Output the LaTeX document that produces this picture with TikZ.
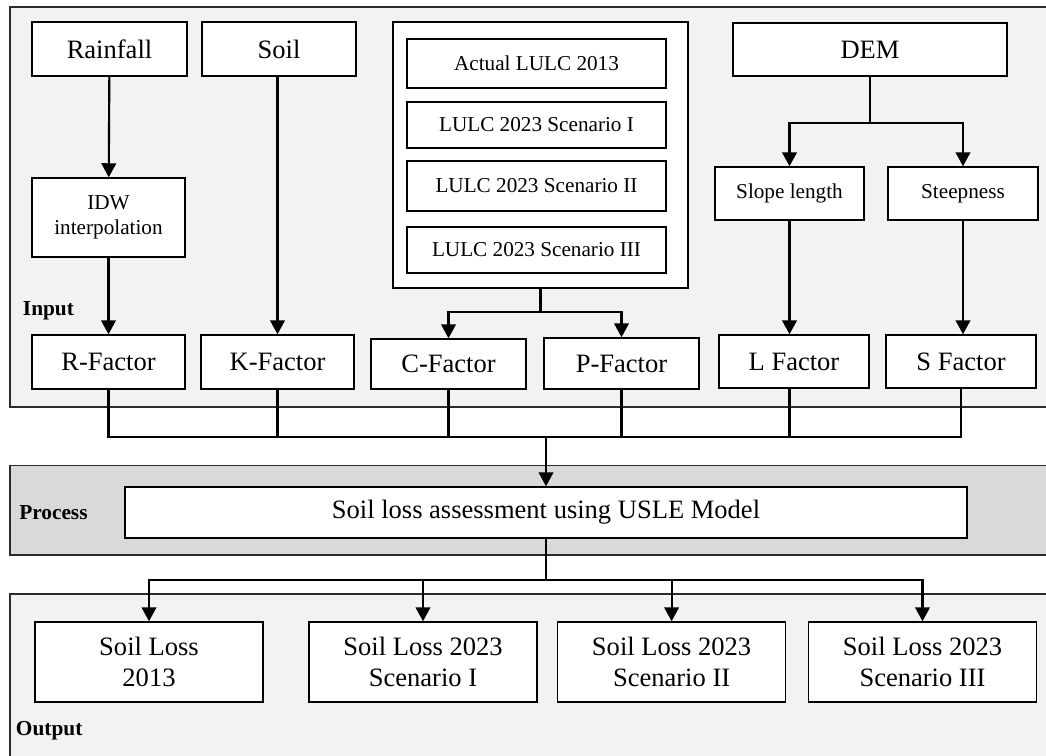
\documentclass[tikz,border=0pt]{standalone}
\usepackage{fontspec}
\setmainfont{Liberation Serif}
\usetikzlibrary{arrows.meta}

\definecolor{panelgray}{HTML}{F2F2F2}
\definecolor{procgray}{HTML}{D9D9D9}
\definecolor{edgegray}{HTML}{2B2B2B}

\tikzset{
  px/.style 2 args={minimum width=#1*0.75pt, minimum height=#2*0.75pt},
  box/.style={draw=black, fill=white, line width=1.1pt, inner sep=0pt, align=center,
              font=\fontsize{19.9}{23.5}\selectfont},
  smallbox/.style={box, font=\fontsize{15.9}{19}\selectfont},
  panel/.style={draw=edgegray, line width=0.8pt},
  tag/.style={anchor=base west, inner sep=0pt, font=\fontsize{16}{19}\selectfont\bfseries},
  link/.style={line width=1.6pt, draw=black},
  flow/.style={link, -{Triangle[width=11pt, length=10.5pt]}}
}

\begin{document}
\begin{tikzpicture}[x=0.75pt, y=-0.75pt]
  \useasboundingbox (0,0) rectangle (1046,756);
  \clip (0,0) rectangle (1046,756);

  % stage panels
  \path[panel, fill=panelgray] (10,7) rectangle (1060,407);
  \path[panel, fill=procgray] (10,465.5) rectangle (1060,555);
  \path[panel, fill=panelgray] (10,594) rectangle (1060,770);

  \node[tag] (lin) at (22.7,315) {Input};
  \node[tag] (lproc) at (19,519) {Process};
  \node[tag] (lout) at (15.7,735.7) {Output};

  % input data
  \node[box, px={155}{54}] (rain) at (109.5,49) {Rainfall};
  \node[box, px={154}{54}] (soil) at (279,49) {Soil};
  \node[smallbox, px={153}{79}] (idw) at (108.5,217.5) {IDW\\interpolation};

  \node[box, px={295}{266}] (lulc) at (540.5,155) {};
  \node[smallbox, px={259}{49}] (act) at (536.5,63.5) {Actual LULC 2013};
  \node[smallbox, px={259}{46}] (sc1) at (536.5,125) {LULC 2023 Scenario I};
  \node[smallbox, px={259}{50}] (sc2) at (536.5,186) {LULC 2023 Scenario II};
  \node[smallbox, px={259}{46}] (sc3) at (536.5,250) {LULC 2023 Scenario III};

  \node[box, px={274}{53}] (dem) at (870,49.5) {DEM};
  \node[smallbox, px={149}{53}] (slope) at (789.5,193.5) {Slope length};
  \node[smallbox, px={150}{53}] (steep) at (963,193.5) {Steepness};

  % factors
  \node[box, px={153}{54}] (rf) at (108.5,362) {R-Factor};
  \node[box, px={153}{54}] (kf) at (277.5,362) {K-Factor};
  \node[box, px={155}{50}] (cf) at (448.5,364) {C-Factor};
  \node[box, px={155}{51}] (pf) at (621.5,363.5) {P-Factor};
  \node[box, px={150}{53}] (lf) at (794,361.5) {L Factor};
  \node[box, px={150}{53}] (sf) at (961,361.5) {S Factor};

  % model
  \node[box, px={842}{51}] (usle) at (546,512.5) {Soil loss assessment using USLE Model};

  % results
  \node[box, px={228}{80}] (o1) at (149,662) {Soil Loss\\2013};
  \node[box, px={228}{80}] (o2) at (423,662) {Soil Loss 2023\\Scenario I};
  \node[box, px={228}{80}] (o3) at (671.6,662) {Soil Loss 2023\\Scenario II};
  \node[box, px={228}{80}] (o4) at (922.5,662) {Soil Loss 2023\\Scenario III};

  % junction points
  \coordinate (lsplit) at (540.5,312);
  \coordinate (dsplit) at (870,123.3);
  \coordinate (bus) at (546,437);
  \coordinate (obus) at (546,580);

  % input connectors
  \draw[flow] (rain) -- (idw);
  \draw[flow] (idw) -- (rf);
  \draw[flow] (soil.south -| kf) -- (kf);
  \draw[link] (lulc.south) -- (lsplit);
  \draw[flow] (lsplit) -| (cf.north);
  \draw[flow] (lsplit) -| (pf.north);
  \draw[link] (dem.south) -- (dsplit);
  \draw[flow] (dsplit) -| (slope.north);
  \draw[flow] (dsplit) -| (steep.north);
  \draw[flow] (slope.south) -- (slope.south |- lf.north);
  \draw[flow] (steep.south) -- (steep.south |- sf.north);

  % factors into the model
  \draw[link] (rf.south) |- (bus) -| (cf.south);
  \draw[link] (kf.south) -- (kf.south |- bus);
  \draw[link] (pf.south) |- (bus);
  \draw[link] (bus) -| (sf.south);
  \draw[link] (lf.south -| slope) -- (slope |- bus);
  \draw[flow] (bus) -- (usle.north -| bus);

  % model to results
  \draw[link] (usle.south -| obus) -- (obus);
  \draw[flow] (obus) -| (o1.north);
  \draw[flow] (obus) -| (o2.north);
  \draw[flow] (obus) -| (o3.north);
  \draw[flow] (obus) -| (o4.north);
\end{tikzpicture}
\end{document}
